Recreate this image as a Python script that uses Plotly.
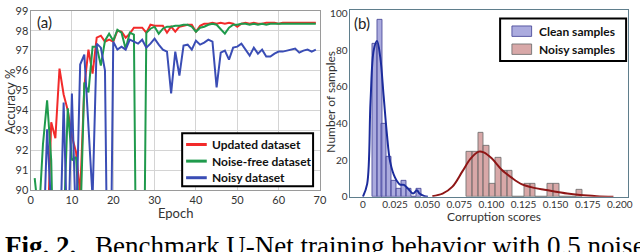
import plotly.graph_objects as go

W, H = 640, 252

# ---------------- Panel (a) data ----------------
epochs = list(range(1, 70))
updated_acc = [85.0, 86.0, 86.5, 87.2, 93.4, 92.6, 96.1, 94.8, 94.0, 92.7,
               91.9, 89.8, 95.2, 97.05, 95.85, 97.65, 97.75, 97.45, 97.55, 97.45,
               98.0, 97.95, 97.65, 97.85, 98.15, 98.15, 98.15, 97.9, 98.3, 98.25,
               98.25, 98.25, 97.9, 98.2, 97.95, 98.2, 98.25, 98.3, 98.3, 97.95,
               98.25, 98.35, 98.35, 98.4, 98.35, 98.4, 98.35, 98.4, 98.35, 98.2,
               98.35, 98.4, 98.35, 98.4, 98.35, 98.35, 98.4, 98.4, 98.4, 98.35,
               98.4, 98.4, 98.4, 98.4, 98.4, 98.4, 98.4, 98.4, 98.4]
noisefree_acc = [90.6, 88.6, 92.3, 94.5, 91.5, 82.0, 86.0, 88.0, 94.1, 91.5,
                 91.65, 88.0, 95.4, 94.9, 97.2, 97.2, 96.25, 97.5, 97.85, 97.5,
                 98.05, 97.9, 97.1, 97.9, 97.8, 75.0, 75.0, 97.9, 98.1, 98.2,
                 97.85, 98.1, 98.2, 98.2, 98.25, 98.25, 98.3, 98.3, 98.2, 97.95,
                 98.15, 98.2, 98.3, 98.35, 98.3, 98.1, 97.85, 98.15, 98.3, 98.3,
                 98.35, 98.35, 98.3, 98.35, 98.3, 98.35, 98.3, 98.35, 98.35, 98.35,
                 98.35, 98.35, 98.35, 98.35, 98.35, 98.35, 98.35, 98.35, 98.35]
noisy_acc = [84.0, 85.0, 86.5, 93.05, 86.5, 85.0, 86.0, 94.4, 86.5, 94.85,
             88.0, 96.3, 96.8, 93.2, 89.6, 97.35, 97.15, 96.0, 78.0, 97.45,
             97.05, 97.2, 97.05, 97.55, 97.45, 97.35, 97.55, 97.15, 97.35, 97.6,
             97.3, 97.05, 96.95, 94.85, 96.95, 95.75, 97.25, 97.3, 97.05, 97.5,
             97.3, 97.4, 97.55, 97.45, 95.15, 96.9, 97.0, 96.55, 97.15, 97.2,
             97.35, 97.05, 96.75, 97.15, 96.85, 97.05, 96.7, 96.7, 96.85, 96.95,
             96.95, 97.0, 97.05, 97.1, 96.9, 97.0, 97.05, 96.95, 97.05]
acc_ticks = list(range(90, 100))
epoch_ticks = list(range(0, 80, 10))
series_a_names = ["Updated dataset", "Noise-free dataset", "Noisy dataset"]

# ---------------- Panel (b) data ----------------
clean_bin_left = [0.0072, 0.0110, 0.0148, 0.0187, 0.0225, 0.0263, 0.0302, 0.0340, 0.0378, 0.0416]
clean_bin_width = 0.00383
clean_counts = [83.6, 96.8, 39.6, 22.0, 8.8, 4.4, 8.8, 4.4, 0.0, 4.4]

noisy_bin_left = [0.0807, 0.0852, 0.0897, 0.0942, 0.0987, 0.1032, 0.1077, 0.1122, 0.1167, 0.1212,
                  0.1257, 0.1302, 0.1347, 0.1392, 0.1437, 0.1482, 0.1527, 0.1572, 0.1617, 0.1662]
noisy_bin_width = 0.0045
noisy_counts = [24.5, 24.5, 35.0, 28.0, 7.0, 21.0, 14.0, 14.0, 0.0, 0.0,
                7.0, 7.0, 0.0, 0.0, 7.0, 7.0, 0.0, 0.0, 0.0, 3.5]

clean_kde_x = [0.0, 0.0033, 0.0059, 0.0084, 0.0110, 0.0135, 0.0161, 0.0186, 0.0212, 0.0250,
               0.0289, 0.0319, 0.0352, 0.0390, 0.0420, 0.0440, 0.0480, 0.0506]
clean_kde_y = [0.0, 7.0, 52.0, 80.0, 85.0, 76.0, 55.0, 34.6, 19.0, 10.4,
               6.6, 6.4, 4.3, 1.7, 3.5, 1.7, 0.3, 0.0]
noisy_kde_x = [0.054, 0.062, 0.0697, 0.0774, 0.0838, 0.0902, 0.0940, 0.1004, 0.1080, 0.1157,
               0.1234, 0.1310, 0.1413, 0.1515, 0.1590, 0.1690, 0.1820, 0.1950]
noisy_kde_y = [0.3, 1.7, 5.5, 13.8, 20.8, 24.6, 24.2, 20.8, 14.7, 10.4,
               6.9, 5.2, 3.8, 2.6, 1.7, 0.9, 0.3, 0.0]
score_ticks = [0, 0.025, 0.05, 0.075, 0.1, 0.125, 0.15, 0.175, 0.2]
score_ticktext = ["0", "0.025", "0.050", "0.075", "0.100", "0.125", "0.150", "0.175", "0.200"]
count_ticks = [0, 20, 40, 60, 80, 100]
series_b_names = ["Clean samples", "Noisy samples"]

FONT = "Lato, 'Open Sans', sans-serif"
SERIF = "'Liberation Serif', 'Times New Roman', serif"
line_colors = ["#f22a2a", "#1f9a4c", "#3a4db5"]
clean_fill, clean_edge = "rgba(115,115,200,0.6)", "rgba(70,70,150,0.85)"
noisy_fill, noisy_edge = "rgba(190,110,110,0.6)", "rgba(110,110,110,0.85)"


def px(x):
    return x / W


def py(y):
    return 1 - y / H


fig = go.Figure()

for name, ys, col in zip(series_a_names, [updated_acc, noisefree_acc, noisy_acc], line_colors):
    fig.add_trace(go.Scatter(x=epochs, y=ys, mode="lines", name=name,
                             line=dict(color=col, width=2), xaxis="x", yaxis="y",
                             showlegend=False))

fig.add_trace(go.Bar(x=[l + clean_bin_width / 2 for l in clean_bin_left], y=clean_counts,
                     width=clean_bin_width, name=series_b_names[0],
                     marker=dict(color=clean_fill, line=dict(color=clean_edge, width=1)),
                     xaxis="x2", yaxis="y2", showlegend=False))
fig.add_trace(go.Bar(x=[l + noisy_bin_width / 2 for l in noisy_bin_left], y=noisy_counts,
                     width=noisy_bin_width, name=series_b_names[1],
                     marker=dict(color=noisy_fill, line=dict(color=noisy_edge, width=1)),
                     xaxis="x2", yaxis="y2", showlegend=False))
fig.add_trace(go.Scatter(x=clean_kde_x, y=clean_kde_y, mode="lines",
                         line=dict(color="#1c2c9c", width=2, shape="spline"),
                         xaxis="x2", yaxis="y2", showlegend=False))
fig.add_trace(go.Scatter(x=noisy_kde_x, y=noisy_kde_y, mode="lines",
                         line=dict(color="#8e1616", width=2, shape="spline"),
                         xaxis="x2", yaxis="y2", showlegend=False))

tickfont = dict(family=FONT, size=11, color="#333")
tickfont_b = dict(family=FONT, size=10, color="#333")
fig.update_layout(
    width=W, height=H, margin=dict(l=0, r=0, t=0, b=0),
    paper_bgcolor="white", plot_bgcolor="white", barmode="overlay", bargap=0,
    showlegend=False,
    xaxis=dict(domain=[px(28), px(322)], range=[0, 70], tickvals=epoch_ticks,
               showgrid=True, gridcolor="#d4d4d4", gridwidth=1, zeroline=False,
               showline=True, mirror=True, linecolor="#9a9a9a", linewidth=1,
               ticks="", tickfont=tickfont, anchor="y", ticklabeloverflow="allow"),
    yaxis=dict(domain=[py(193), py(4)], range=[90, 99], tickvals=acc_ticks,
               showgrid=True, gridcolor="#d4d4d4", gridwidth=1, zeroline=False,
               showline=True, mirror=True, linecolor="#9a9a9a", linewidth=1,
               ticks="", tickfont=tickfont, anchor="x", ticklabeloverflow="allow",
               ticklabelstandoff=-1),
    xaxis2=dict(domain=[px(353), px(635)], range=[-0.0097, 0.2064], tickvals=score_ticks,
                ticktext=score_ticktext, showgrid=False, zeroline=False,
                showline=True, mirror=True, linecolor="#5f7e8c", linewidth=1,
                ticks="", tickfont=tickfont_b, anchor="y2", ticklabeloverflow="allow",
                ticklabelstandoff=-2),
    yaxis2=dict(domain=[py(200), py(3)], range=[0, 102], tickvals=count_ticks,
                showgrid=False, zeroline=False,
                showline=True, mirror=True, linecolor="#5f7e8c", linewidth=1,
                ticks="", tickfont=tickfont_b, anchor="x2", ticklabeloverflow="allow"),
)

shapes = []
ann = []
legfont = dict(family=FONT, size=12, color="#111", weight="bold")

# legend (a)
shapes.append(dict(type="rect", x0=px(182), x1=px(315), y0=py(189), y1=py(133),
                   line=dict(color="black", width=2), fillcolor="white", layer="above"))
for i, (name, col) in enumerate(zip(series_a_names, line_colors)):
    yc = 145 + i * 17.5
    shapes.append(dict(type="line", x0=px(186), x1=px(207), y0=py(yc), y1=py(yc),
                       line=dict(color=col, width=3), layer="above"))
    ann.append(dict(text=name, x=px(210), y=py(yc), xanchor="left", yanchor="middle",
                    font=legfont))

# legend (b)
shapes.append(dict(type="rect", x0=px(505), x1=px(633), y0=py(57), y1=py(12),
                   line=dict(color="black", width=2), fillcolor="white", layer="above"))
for i, (name, fc, ec) in enumerate(zip(series_b_names, [clean_fill, noisy_fill], [clean_edge, noisy_edge])):
    yc = 25.5 + i * 19
    shapes.append(dict(type="rect", x0=px(517), x1=px(537), y0=py(yc + 5.5), y1=py(yc - 5.5),
                       line=dict(color=ec, width=1), fillcolor=fc, layer="above"))
    ann.append(dict(text=name, x=px(542), y=py(yc), xanchor="left", yanchor="middle",
                    font=legfont))

ann += [
    dict(text="(a)", x=px(32), y=py(16), xanchor="left", yanchor="middle",
         font=dict(family=FONT, size=15, color="#222")),
    dict(text="(b)", x=px(355), y=py(17), xanchor="left", yanchor="middle",
         font=dict(family=FONT, size=15, color="#222")),
    dict(text="Epoch", x=px(175), y=py(217), xanchor="center", yanchor="middle",
         font=dict(family=FONT, size=13, color="#333")),
    dict(text="Accuracy %", x=px(7.5), y=py(99), xanchor="center", yanchor="middle",
         textangle=-90, font=dict(family=FONT, size=13, color="#333")),
    dict(text="Number of samples", x=px(333), y=py(100), xanchor="center", yanchor="middle",
         textangle=-90, font=dict(family=FONT, size=12, color="#333")),
    dict(text="Corruption scores", x=px(499), y=py(221), xanchor="center", yanchor="middle",
         font=dict(family=FONT, size=12, color="#333")),
    dict(text="<b>Fig. 2.</b>", x=px(0), y=py(234), xanchor="left", yanchor="top",
         font=dict(family=SERIF, size=27, color="black")),
    dict(text="Benchmark U-Net training behavior with 0.5 noise", x=px(91), y=py(234),
         xanchor="left", yanchor="top", font=dict(family=SERIF, size=27, color="black")),
]
for a in ann:
    a.update(xref="paper", yref="paper", showarrow=False)
for s in shapes:
    s.update(xref="paper", yref="paper")
fig.update_layout(annotations=ann, shapes=shapes)

fig.write_html("out.html", config={"displayModeBar": False},
               post_script="document.body.style.margin='0px';document.body.style.overflow='hidden';")
